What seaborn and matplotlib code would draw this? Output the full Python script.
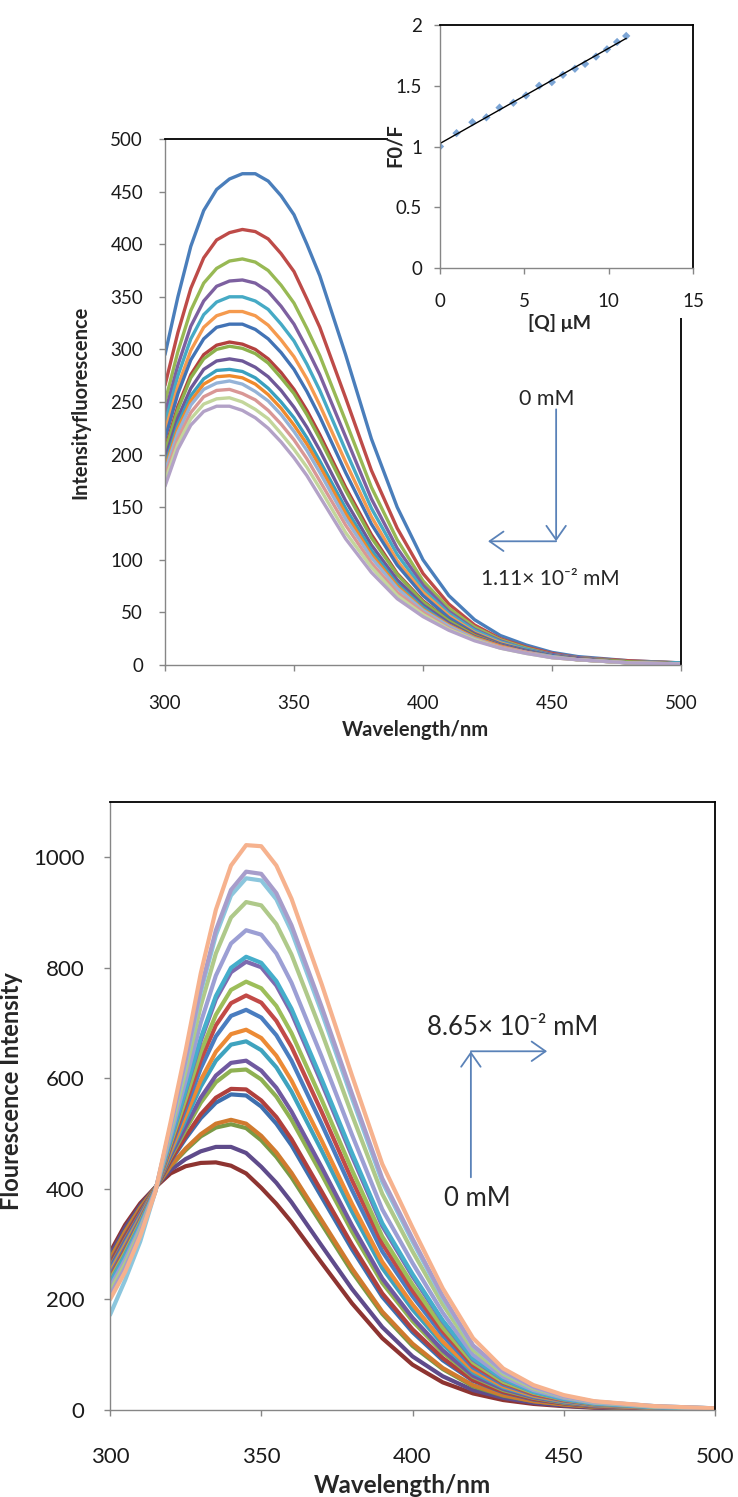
import pandas as pd
import seaborn as sns
import matplotlib.pyplot as plt
from matplotlib.patches import Rectangle
from matplotlib.ticker import FuncFormatter

# wavelength grid (nm) the spectra were read at
wavelength = [300, 305, 310, 315, 320, 325, 330, 335, 340, 345, 350, 355, 360,
              370, 380, 390, 400, 410, 420, 430, 440, 450, 460, 480, 500]

# upper panel: quenching, 0 mM -> 1.11x10^-2 mM
quench = [
    [295, 350, 398, 432, 452, 462, 467, 467, 460, 446, 428, 400, 370, 295, 215, 150, 100, 66, 43, 28, 19, 12, 8, 4, 2],
    [266, 316, 358, 387, 404, 411, 414, 412, 405, 391, 374, 348, 321, 254, 185, 130, 87, 58, 38, 25, 17, 11, 7, 4, 2],
    [250, 298, 337, 363, 377, 384, 386, 383, 375, 361, 344, 320, 294, 232, 169, 119, 80, 54, 36, 24, 16, 10, 7, 3, 2],
    [239, 285, 322, 346, 360, 365, 366, 363, 355, 341, 324, 301, 276, 217, 158, 111, 76, 51, 34, 23, 15, 10, 7, 3, 2],
    [230, 275, 310, 333, 345, 350, 350, 346, 338, 324, 308, 286, 261, 204, 149, 105, 72, 49, 33, 22, 15, 9, 6, 3, 2],
    [222, 265, 299, 321, 332, 336, 336, 332, 323, 309, 293, 272, 247, 193, 141, 99, 69, 47, 31, 21, 14, 9, 6, 3, 1],
    [215, 258, 290, 310, 321, 324, 324, 319, 310, 297, 281, 260, 236, 183, 134, 95, 66, 45, 30, 20, 14, 9, 6, 3, 1],
    [205, 246, 276, 295, 304, 307, 305, 300, 291, 278, 262, 242, 219, 169, 124, 87, 61, 42, 29, 19, 13, 8, 6, 3, 1],
    [203, 243, 273, 291, 300, 303, 301, 296, 287, 273, 258, 238, 215, 166, 121, 86, 60, 42, 28, 19, 13, 8, 6, 3, 1],
    [196, 235, 263, 281, 289, 291, 289, 283, 274, 261, 245, 226, 204, 156, 114, 81, 57, 40, 27, 19, 13, 8, 6, 2, 1],
    [190, 229, 256, 272, 280, 281, 279, 273, 263, 250, 235, 216, 194, 149, 109, 77, 55, 38, 26, 18, 12, 8, 5, 2, 1],
    [187, 225, 251, 267, 274, 275, 273, 267, 257, 244, 228, 210, 189, 144, 105, 75, 53, 38, 26, 18, 12, 8, 5, 2, 1],
    [184, 221, 247, 262, 268, 270, 267, 260, 251, 238, 222, 204, 183, 139, 102, 73, 52, 37, 25, 17, 12, 8, 5, 2, 1],
    [179, 215, 240, 255, 261, 262, 258, 252, 242, 229, 214, 196, 175, 133, 97, 69, 50, 35, 24, 17, 12, 7, 5, 2, 1],
    [175, 210, 234, 248, 253, 254, 250, 243, 234, 220, 205, 188, 168, 126, 93, 66, 48, 34, 24, 16, 11, 7, 5, 2, 1],
    [170, 205, 228, 241, 246, 246, 242, 235, 225, 212, 197, 180, 160, 120, 88, 63, 46, 33, 23, 16, 11, 7, 5, 2, 1],
]
quench_colors = ['#4A7EBB', '#BE4B48', '#98B954', '#7D60A0', '#46AAC5', '#F59A4E',
                 '#4273B5', '#B3413E', '#8DB14C', '#6E5898', '#3AA0BE', '#F08A2B',
                 '#95B3D7', '#D99795', '#C3D69B', '#B3A2C7']

# inset: Stern-Volmer plot
q_um = [0, 0.98, 1.92, 2.75, 3.53, 4.35, 5.1, 5.88, 6.63, 7.29, 8.0, 8.6, 9.25, 9.9, 10.5, 11.04]
f0_f = [1.0, 1.11, 1.2, 1.24, 1.32, 1.36, 1.42, 1.5, 1.53, 1.59, 1.64, 1.68, 1.74, 1.80, 1.86, 1.91]

# lower panel: enhancement, 0 mM -> 8.65x10^-2 mM
enhance = [
    [285, 335, 374, 403, 428, 441, 447, 448, 442, 428, 402, 373, 340, 266, 193, 130, 82, 50, 30, 18, 11, 7, 4, 2, 1],
    [280, 330, 370, 403, 434, 454, 468, 476, 476, 465, 440, 411, 376, 297, 219, 150, 97, 61, 36, 22, 13, 8, 5, 2, 1],
    [273, 323, 366, 402, 441, 470, 495, 511, 517, 510, 488, 458, 421, 336, 250, 174, 116, 74, 43, 26, 16, 10, 6, 3, 1],
    [272, 322, 365, 402, 442, 473, 499, 518, 525, 518, 496, 466, 429, 343, 256, 178, 120, 76, 45, 27, 16, 10, 6, 3, 1],
    [265, 315, 360, 401, 450, 491, 528, 556, 571, 569, 549, 518, 479, 385, 291, 205, 141, 90, 53, 32, 19, 12, 7, 3, 2],
    [263, 313, 359, 401, 452, 495, 535, 565, 581, 580, 560, 530, 490, 395, 299, 211, 146, 94, 54, 33, 20, 12, 7, 3, 2],
    [258, 308, 355, 401, 457, 507, 556, 593, 614, 616, 598, 567, 525, 426, 323, 230, 161, 104, 60, 36, 22, 13, 8, 4, 2],
    [256, 306, 354, 400, 460, 513, 565, 605, 628, 632, 614, 583, 540, 439, 334, 238, 167, 108, 62, 38, 23, 14, 8, 4, 2],
    [251, 301, 350, 400, 465, 525, 585, 632, 661, 667, 651, 620, 576, 469, 359, 257, 182, 119, 68, 41, 25, 15, 9, 4, 2],
    [248, 298, 348, 400, 468, 533, 597, 648, 680, 688, 673, 641, 596, 487, 373, 268, 191, 124, 72, 43, 26, 16, 9, 4, 2],
    [243, 293, 345, 399, 474, 545, 618, 676, 713, 724, 710, 678, 632, 517, 398, 287, 206, 135, 77, 46, 28, 17, 10, 5, 2],
    [239, 289, 342, 399, 478, 554, 633, 696, 736, 750, 737, 704, 657, 539, 416, 301, 216, 142, 81, 49, 29, 18, 11, 5, 2],
    [235, 285, 340, 398, 482, 563, 648, 715, 760, 775, 763, 731, 682, 561, 434, 314, 227, 149, 86, 51, 31, 19, 11, 5, 2],
    [230, 280, 336, 398, 487, 576, 668, 743, 792, 811, 801, 768, 718, 591, 459, 333, 242, 160, 91, 55, 33, 20, 12, 5, 2],
    [229, 279, 335, 398, 489, 579, 673, 749, 800, 820, 809, 776, 726, 598, 465, 338, 246, 162, 93, 56, 33, 20, 12, 5, 2],
    [222, 272, 330, 397, 496, 596, 701, 786, 844, 868, 860, 826, 773, 639, 498, 363, 266, 176, 100, 60, 36, 22, 13, 6, 3],
    [215, 265, 325, 396, 504, 614, 731, 826, 891, 919, 913, 879, 824, 683, 534, 391, 287, 191, 109, 65, 39, 24, 14, 6, 3],
    [172, 235, 305, 396, 511, 629, 756, 859, 931, 962, 958, 924, 866, 719, 564, 413, 305, 203, 116, 69, 42, 25, 15, 7, 3],
    [207, 257, 320, 396, 513, 633, 762, 868, 941, 974, 970, 935, 877, 729, 572, 419, 310, 206, 117, 70, 42, 25, 15, 7, 3],
    [200, 250, 315, 395, 520, 650, 790, 905, 985, 1022, 1020, 985, 925, 770, 605, 445, 330, 220, 130, 75, 45, 27, 16, 7, 3],
]
enhance_colors = ['#8E3431', '#5F4B8B', '#7A9A45', '#D07A2E', '#3E6FAE', '#B0403D',
                  '#8FB152', '#7059A0', '#3FA3BE', '#EC8A35', '#4A7DC0', '#C24A47',
                  '#9DBE5A', '#7E6AB0', '#45AECB', '#9C9FD4', '#AFC98A', '#8CC6DD',
                  '#A79DCB', '#F6B28E']

sns.set_style('ticks')
plt.rcParams['font.family'] = ['Lato', 'DejaVu Sans']

ARROW = '#5A82B8'


def to_long(spectra):
    rows = []
    for i, ys in enumerate(spectra):
        for x, y in zip(wavelength, ys):
            rows.append((x, y, f's{i:02d}'))
    return pd.DataFrame(rows, columns=['wl', 'val', 'series'])


def excel_frame(ax, size, xpad, ypad):
    # excel look: grey left/bottom axes, black box on top/right
    for s in ['left', 'bottom']:
        ax.spines[s].set_color('#868686')
        ax.spines[s].set_linewidth(1.0)
    for s in ['top', 'right']:
        ax.spines[s].set_color('black')
        ax.spines[s].set_linewidth(1.3)
    ax.tick_params(direction='out', length=4.3, width=1, color='#868686',
                   labelcolor='#1a1a1a', labelsize=size, top=False, right=False)
    ax.tick_params(axis='x', pad=xpad)
    ax.tick_params(axis='y', pad=ypad)


def arrow(ax, start, end):
    ax.annotate('', xy=end, xytext=start,
                arrowprops=dict(arrowstyle='->, head_length=0.5, head_width=0.35',
                                color=ARROW, lw=1.3, shrinkA=0, shrinkB=0,
                                mutation_scale=20))


fig = plt.figure(figsize=(7.38, 14.97), dpi=100)

# ---- upper panel ----
ax1 = fig.add_axes([165 / 738, 1 - 665 / 1497, 516 / 738, 526 / 1497])
sns.lineplot(data=to_long(quench), x='wl', y='val', hue='series',
             palette=quench_colors, linewidth=2.4, legend=False,
             estimator=None, ax=ax1)
ax1.set_xlim(300, 500)
ax1.set_ylim(0, 500)
ax1.set_xticks(range(300, 501, 50))
ax1.set_yticks(range(0, 501, 50))
excel_frame(ax1, 13.5, 17, 11.5)
ax1.set_xlabel('Wavelength/nm', fontsize=14.5, fontweight='bold')
ax1.xaxis.set_label_coords(0.486, -0.104)
ax1.set_ylabel('Intensityfluorescence', fontsize=14.5, fontweight='bold')
ax1.yaxis.set_label_coords(-0.145, 0.5)

ax1.text(448, 253, '0 mM', ha='center', va='center', fontsize=15.5)
arrow(ax1, (451.6, 243), (451.6, 117.6))
arrow(ax1, (451.6, 117.6), (425.2, 117.6))
ax1.text(449.2, 81.6, '1.11× 10⁻² mM', ha='center', va='center', fontsize=15)

# white chart area of the inset hides the corner of the main frame
fig.add_artist(Rectangle((388 / 738, 1 - 318 / 1497), 350 / 738, 318 / 1497,
                         transform=fig.transFigure, facecolor='white',
                         edgecolor='none', zorder=1))

# ---- inset ----
ax_in = fig.add_axes([440 / 738, 1 - 268 / 1497, 253 / 738, 243 / 1497])
ax_in.set_zorder(2)
sns.regplot(x=q_um, y=f0_f, ci=None, marker='D',
            scatter_kws=dict(s=18, color='#5B8FCB', edgecolor='none'),
            line_kws=dict(color='black', lw=1.0), ax=ax_in)
ax_in.set_xlim(0, 15)
ax_in.set_ylim(0, 2)
ax_in.set_xticks([0, 5, 10, 15])
ax_in.set_yticks([0, 0.5, 1, 1.5, 2])
ax_in.yaxis.set_major_formatter(FuncFormatter(lambda v, p: f'{v:g}'))
excel_frame(ax_in, 13.5, 14, 8.6)
ax_in.set_xlabel('[Q] μM', fontsize=14, fontweight='bold')
ax_in.xaxis.set_label_coords(0.474, -0.19)
ax_in.set_ylabel('F0/F', fontsize=14.5, fontweight='bold')
ax_in.yaxis.set_label_coords(-0.138, 0.506)

# ---- lower panel ----
ax2 = fig.add_axes([110 / 738, 1 - 1410 / 1497, 605 / 738, 608 / 1497])
sns.lineplot(data=to_long(enhance), x='wl', y='val', hue='series',
             palette=enhance_colors, linewidth=3.0, legend=False,
             estimator=None, ax=ax2)
ax2.set_xlim(300, 500)
ax2.set_ylim(0, 1100)
ax2.set_xticks(range(300, 501, 50))
ax2.set_yticks(range(0, 1001, 200))
excel_frame(ax2, 16, 22, 14)
ax2.set_xlabel('Wavelength/nm', fontsize=17.5, fontweight='bold')
ax2.xaxis.set_label_coords(0.483, -0.105)
ax2.set_ylabel('Flourescence Intensity', fontsize=17, fontweight='bold')
ax2.yaxis.set_label_coords(-0.144, 0.525)

ax2.text(433.2, 692.6, '8.65× 10⁻² mM', ha='center', va='center', fontsize=18.5)
arrow(ax2, (419.3, 421), (419.3, 649))
arrow(ax2, (419.3, 649), (444.5, 649))
ax2.text(421.3, 383, '0 mM', ha='center', va='center', fontsize=18.5)

fig.savefig('out.png', dpi=100)
